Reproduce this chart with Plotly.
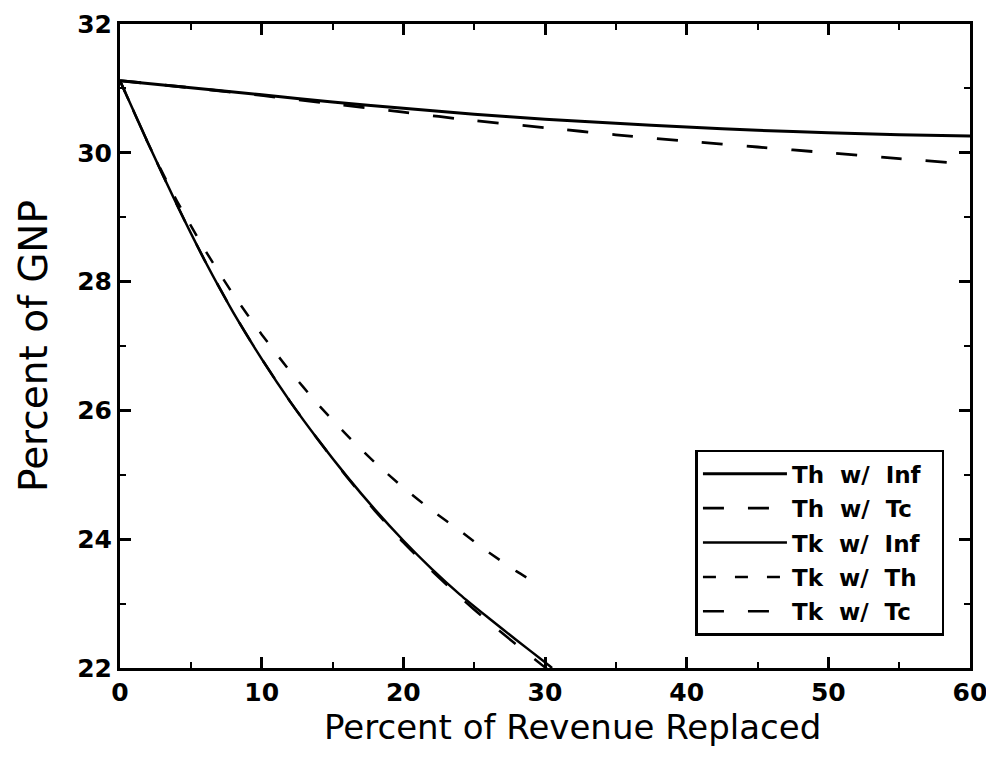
import plotly.graph_objects as go

# Th w/ Inf
x_th_inf = [0, 5, 10, 15, 20, 25, 30, 35, 40, 45, 50, 55, 60]
y_th_inf = [31.12, 31.01, 30.90, 30.79, 30.69, 30.60, 30.52, 30.46, 30.40, 30.35, 30.31, 30.28, 30.26]

# Th w/ Tc
x_th_tc = [0, 5, 10, 15, 20, 25, 30, 35, 40, 45, 50, 55, 58.5]
y_th_tc = [31.12, 31.01, 30.89, 30.76, 30.63, 30.50, 30.39, 30.28, 30.18, 30.09, 30.00, 29.91, 29.85]

# Tk w/ Inf
x_tk_inf = [0, 2, 4, 6, 8, 10, 12, 14, 16, 18, 20, 22, 24, 26, 28, 30, 30.5]
y_tk_inf = [31.12, 30.14, 29.20, 28.32, 27.52, 26.80, 26.14, 25.54, 24.98, 24.46, 23.98, 23.54, 23.14, 22.78, 22.43, 22.09, 22.00]

# Tk w/ Th
x_tk_th = [0, 2, 4, 6, 8, 10, 12, 14, 16, 18, 20, 22, 24, 26, 28, 29.5]
y_tk_th = [31.12, 30.14, 29.26, 28.49, 27.80, 27.18, 26.61, 26.09, 25.62, 25.19, 24.80, 24.45, 24.13, 23.80, 23.50, 23.30]

# Tk w/ Tc
x_tk_tc = [0, 2, 4, 6, 8, 10, 12, 14, 16, 18, 20, 22, 24, 26, 28, 30, 31]
y_tk_tc = [31.12, 30.14, 29.20, 28.32, 27.52, 26.80, 26.14, 25.54, 24.97, 24.44, 23.95, 23.51, 23.10, 22.72, 22.36, 22.01, 21.84]

names = ["Th\u00a0\u00a0w/\u00a0\u00a0Inf\u00a0\u00a0", "Th\u00a0\u00a0w/\u00a0\u00a0Tc\u00a0\u00a0", "Tk\u00a0\u00a0w/\u00a0\u00a0Inf\u00a0\u00a0",
         "Tk\u00a0\u00a0w/\u00a0\u00a0Th\u00a0\u00a0", "Tk\u00a0\u00a0w/\u00a0\u00a0Tc\u00a0\u00a0"]
xs = [x_th_inf, x_th_tc, x_tk_inf, x_tk_th, x_tk_tc]
ys = [y_th_inf, y_th_tc, y_tk_inf, y_tk_th, y_tk_tc]
dashes = ["solid", "21px,24px", "solid", "13px,19px", "21px,24px"]
widths = [3, 2.8, 2.5, 2.5, 2.5]

x_title = "Percent of Revenue Replaced"
y_title = "Percent of GNP"

fig = go.Figure()
for i in range(5):
    fig.add_trace(go.Scatter(
        x=xs[i], y=ys[i], mode="lines", name=names[i],
        legendgroup="g%d" % i,
        line=dict(color="black", width=widths[i], dash=dashes[i], shape="spline", smoothing=0.6),
    ))

fnt = "DejaVu Sans, sans-serif"
axis_common = dict(
    showgrid=False, zeroline=False, showline=True, linecolor="black", linewidth=3,
    mirror="allticks", ticks="inside", ticklen=11, tickwidth=2.5, tickcolor="black",
    tickfont=dict(family=fnt, size=25, color="black", weight="bold"),
    automargin=False, ticklabeloverflow="allow",
)
fig.update_xaxes(range=[0, 60], tickvals=[0, 10, 20, 30, 40, 50, 60],
                 minor=dict(dtick=5, ticks="inside", ticklen=6, tickwidth=2, tickcolor="black"),
                 **axis_common)
fig.update_yaxes(range=[22, 32], tickvals=[22, 24, 26, 28, 30, 32],
                 minor=dict(dtick=1, ticks="inside", ticklen=6, tickwidth=2, tickcolor="black"),
                 **axis_common)

fig.add_annotation(text=x_title, xref="paper", yref="paper", x=0.532, y=0,
                   xanchor="center", yanchor="middle", yshift=-59, showarrow=False,
                   font=dict(family=fnt, size=34, color="black"))
fig.add_annotation(text=y_title, xref="paper", yref="paper", x=0, y=0.5,
                   xanchor="center", yanchor="middle", xshift=-87, textangle=-90, showarrow=False,
                   font=dict(family=fnt, size=39, color="black"))

fig.update_layout(
    width=986, height=742,
    margin=dict(l=112, r=24, t=16, b=82),
    paper_bgcolor="white", plot_bgcolor="white",
    showlegend=True,
    legend=dict(
        x=0.677, y=0.05, xanchor="left", yanchor="bottom",
        bgcolor="white", bordercolor="black", borderwidth=2.5,
        font=dict(family=fnt, size=23, color="black", weight="bold"),
        tracegroupgap=1.5, itemwidth=84,
    ),
)

fig.write_html("out.html")
